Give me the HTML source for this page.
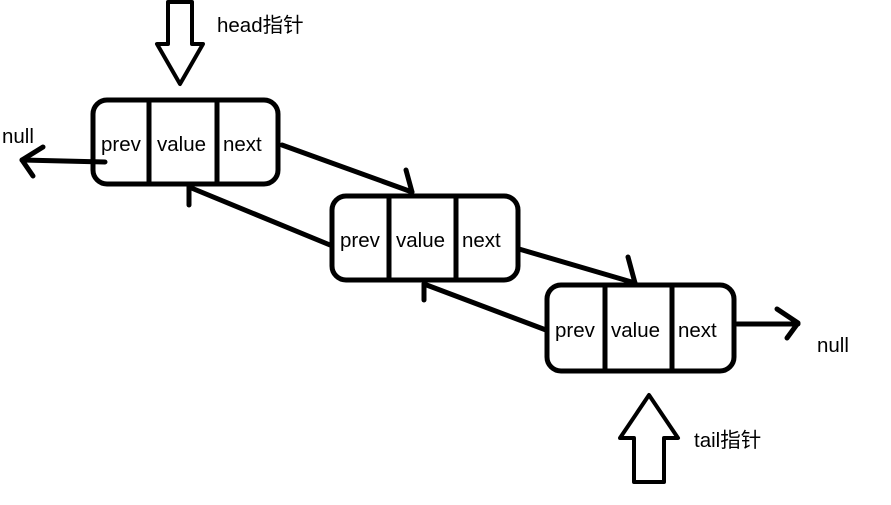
<!DOCTYPE html>
<html><head><meta charset="utf-8"><style>
html,body{margin:0;padding:0;background:#fff;}
svg{display:block;}
text{font-family:"Liberation Sans","Noto Sans CJK SC",sans-serif;font-size:20.5px;fill:#000;}
</style></head><body>
<svg width="891" height="505" viewBox="0 0 891 505" xmlns="http://www.w3.org/2000/svg">
<g fill="none" stroke="#000" stroke-width="5" stroke-linecap="round" stroke-linejoin="round">
<polygon points="168,2 192,2 192,44 203,44 180,84 157,44 168,44" stroke-width="4"/>
<polygon points="649,395 678,438 664,438 664,482 634,482 634,438 620,438" stroke-width="4"/>
<rect x="93" y="100" width="185" height="84" rx="14"/>
<line x1="149" y1="100" x2="149" y2="184"/><line x1="217" y1="100" x2="217" y2="184"/>
<rect x="332" y="196" width="186" height="84" rx="14"/>
<line x1="389" y1="196" x2="389" y2="280"/><line x1="456" y1="196" x2="456" y2="280"/>
<rect x="547" y="285" width="187" height="86" rx="14"/>
<line x1="605" y1="285" x2="605" y2="371"/><line x1="672" y1="285" x2="672" y2="371"/>
<line x1="282" y1="145" x2="412" y2="192"/><line x1="406" y1="170" x2="412" y2="192"/>
<line x1="330" y1="245" x2="189" y2="187"/><line x1="189" y1="187" x2="189" y2="205"/>
<line x1="519" y1="249" x2="635" y2="283"/><line x1="628" y1="257" x2="635" y2="283"/>
<line x1="546" y1="330" x2="424" y2="284"/><line x1="424" y1="284" x2="424" y2="300"/>
<line x1="737" y1="324" x2="798" y2="324"/><polyline points="777,309 798,323 787,338"/>
<line x1="105" y1="162" x2="22" y2="160"/><polyline points="43,147 22,160 33,176"/>
</g>
<text x="101" y="151">prev</text><text x="157" y="151">value</text><text x="223" y="151">next</text>
<text x="340" y="247">prev</text><text x="396" y="247">value</text><text x="462" y="247">next</text>
<text x="555" y="337">prev</text><text x="611" y="337">value</text><text x="678" y="337">next</text>
<text x="2" y="143">null</text>
<text x="817" y="352">null</text>
<text x="217" y="32">head指针</text>
<text x="694" y="447">tail指针</text>
</svg>
</body></html>
